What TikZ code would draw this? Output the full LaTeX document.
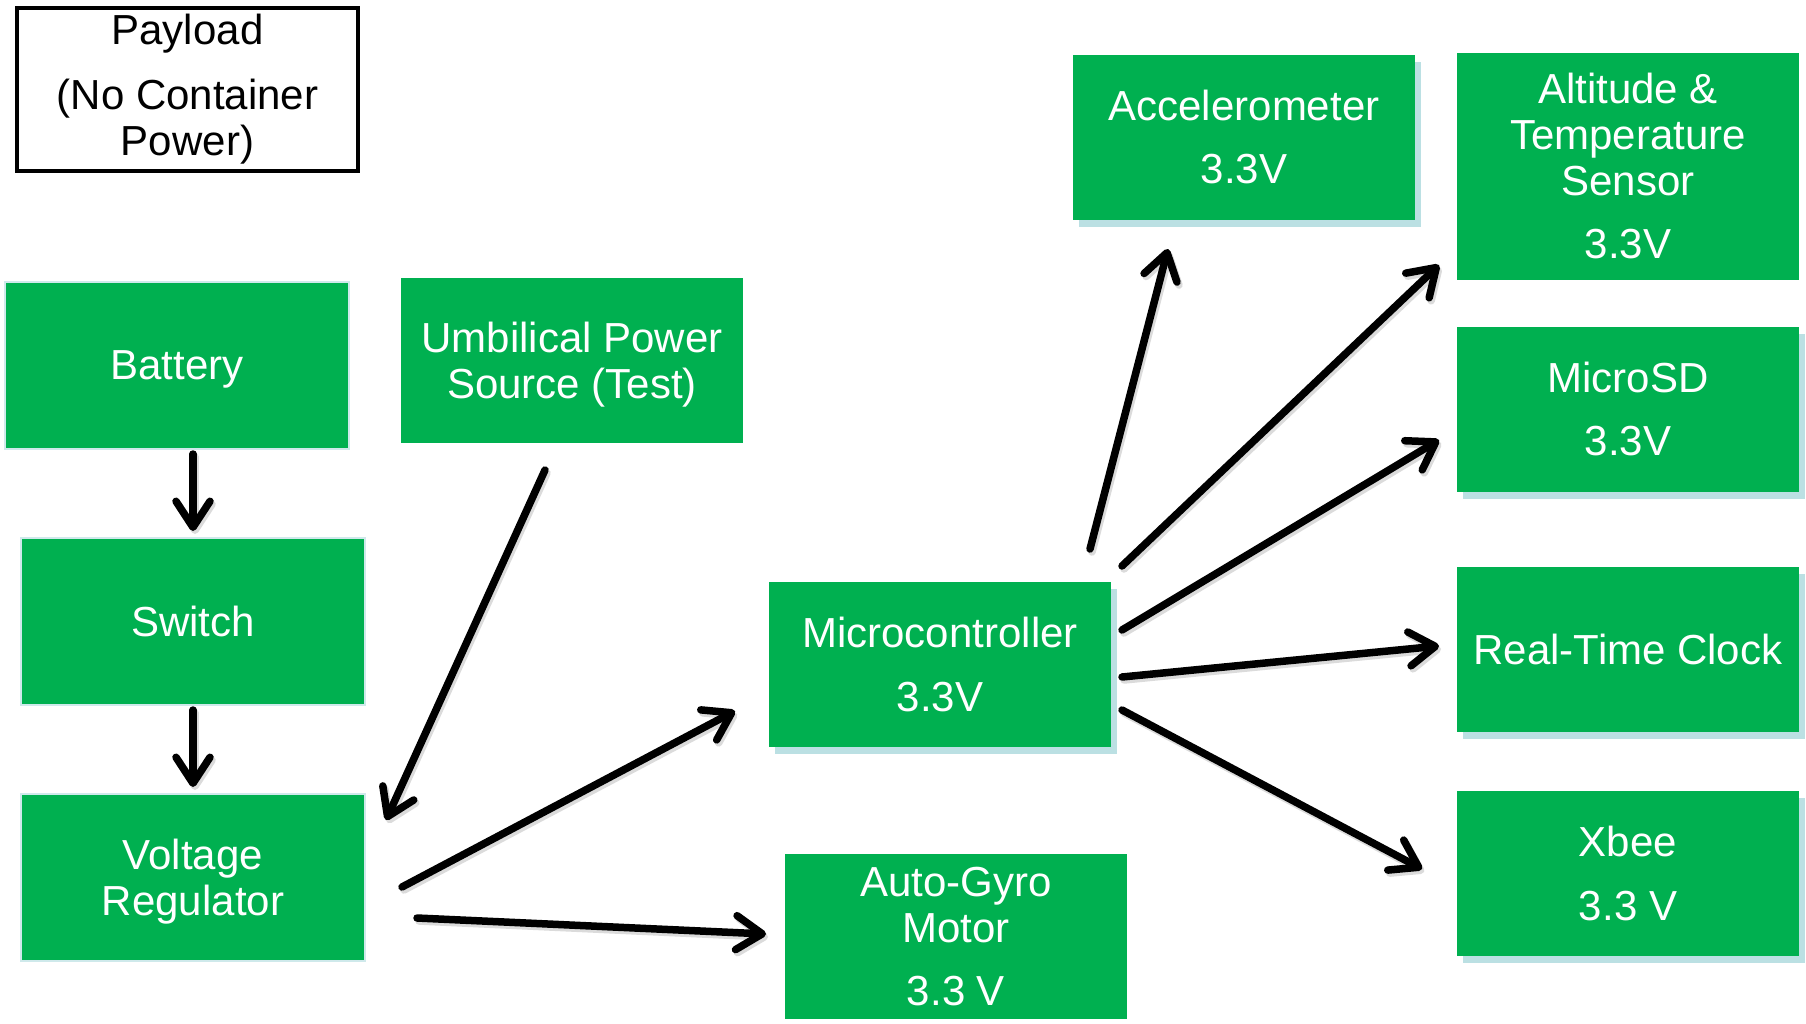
\documentclass[tikz,border=0pt]{standalone}
\usepackage{fontspec}
\setmainfont{Liberation Sans}
\usetikzlibrary{arrows.meta,shadows}
\definecolor{boxgreen}{RGB}{0,176,80}
\definecolor{shadowc}{RGB}{187,224,227}
\begin{document}
\begin{tikzpicture}[x=1pt,y=-1pt,
  box/.style={fill=boxgreen, text=white, minimum width=342pt, minimum height=165pt,
    inner sep=0pt, align=center, text depth=0pt, font=\fontsize{42}{46}\selectfont},
  shad/.style={drop shadow={opacity=1, fill=shadowc, shadow xshift=6pt, shadow yshift=-7pt, rounded corners=8pt}},
  halo/.style={preaction={draw=shadowc!70, line width=4pt, rounded corners=5pt}},
  arr/.style={line width=7.5pt, line cap=round, -{Straight Barb[length=26pt,width=34pt,round]}},
  arrshad/.style={draw=black!14, line width=7.5pt, line cap=round, -{Straight Barb[length=26pt,width=34pt,round]}},
]
\fill[white] (0,0) rectangle (1806,1023);
\useasboundingbox (0,0) rectangle (1806,1023);

% nodes
\node[draw=black, line width=4pt, minimum width=341pt, minimum height=163pt, inner sep=0pt,
  align=center, font=\fontsize{42}{46}\selectfont] (pay) at (187.5,89.5)
  {Payload\\[19pt](No Container\\Power)};

\node[box, halo] (bat) at (177,365.5) {Battery};
\node[box] (umb) at (572,360) {Umbilical Power\\Source (Test)};
\node[box, halo] (sw) at (193,621.5) {Switch};
\node[box, halo] (vr) at (193,877.5) {Voltage\\Regulator};
\node[box, shad] (mc) at (940,664.5) {Microcontroller\\[18pt]3.3V};
\node[box] (ag) at (956,936) {Auto-Gyro\\Motor\\[17pt]3.3 V};
\node[box, shad] (acc) at (1244,137) {Accelerometer\\[17pt]3.3V};
\node[box, minimum height=227pt] (alt) at (1628,166) {Altitude \&\\Temperature\\Sensor\\[17pt]3.3V};
\node[box, shad] (sd) at (1628,409) {MicroSD\\[17pt]3.3V};
\node[box, shad] (rtc) at (1628,649) {Real-Time Clock};
\node[box, shad] (xb) at (1628,873) {Xbee\\[18pt]3.3 V};

% connector end points
\coordinate (a1s) at (193,454);  \coordinate (a1e) at (193,531);
\coordinate (a2s) at (193,710);  \coordinate (a2e) at (193,787);
\coordinate (a3s) at (545,470);  \coordinate (a3e) at (386,820);
\coordinate (a4s) at (402,887);  \coordinate (a4e) at (735,711);
\coordinate (a5s) at (417,918);  \coordinate (a5e) at (766,934);
\coordinate (a6s) at (1090,549); \coordinate (a6e) at (1168,249);
\coordinate (a7s) at (1122,566); \coordinate (a7e) at (1439,265);
\coordinate (a8s) at (1122,630); \coordinate (a8e) at (1439,440);
\coordinate (a9s) at (1122,677); \coordinate (a9e) at (1439,646);
\coordinate (a10s) at (1122,710); \coordinate (a10e) at (1422,869);

% soft arrow shadows
\begin{scope}[transform canvas={shift={(2pt,-3pt)}}]
  \foreach \i in {1,...,10} {\draw[arrshad] (a\i s) -- (a\i e);}
\end{scope}

% connectors
\draw[arr] (a1s) -- (a1e);
\draw[arr] (a2s) -- (a2e);
\draw[arr] (a3s) -- (a3e);
\draw[arr] (a4s) -- (a4e);
\draw[arr] (a5s) -- (a5e);
\draw[arr] (a6s) -- (a6e);
\draw[arr] (a7s) -- (a7e);
\draw[arr] (a8s) -- (a8e);
\draw[arr] (a9s) -- (a9e);
\draw[arr] (a10s) -- (a10e);
\end{tikzpicture}
\end{document}
